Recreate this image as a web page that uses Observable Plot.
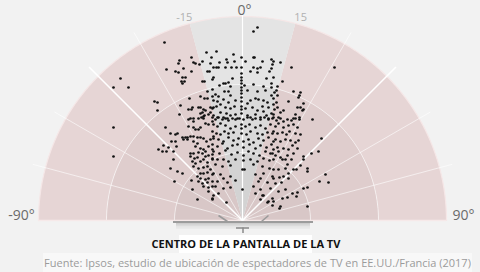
<!DOCTYPE html>
<html><head><meta charset="utf-8">
<script src="https://cdn.jsdelivr.net/npm/d3@7"></script>
<script src="https://cdn.jsdelivr.net/npm/@observablehq/plot@0.6"></script>
<style>
html,body{margin:0;padding:0;background:#f2f2f2;width:480px;height:272px;overflow:hidden;font-family:"Open Sans",sans-serif;}
#chart{position:absolute;left:0;top:0;}
#titlebox{position:absolute;left:179px;top:235px;width:133px;height:18px;background:#ffffff;}
#title{position:absolute;left:0;top:235px;width:492px;height:18px;line-height:18px;text-align:center;font-weight:700;font-size:11px;color:#111;}
#source{position:absolute;left:43px;top:253px;width:429px;height:19px;line-height:19px;text-align:center;font-size:11px;color:#9b9b9b;background:#f8f8f8;white-space:nowrap;}
</style></head><body>
<div id="chart"></div>
<div id="titlebox"></div>
<div id="title">CENTRO DE LA PANTALLA DE LA TV</div>
<div id="source">Fuente: Ipsos, estudio de ubicación de espectadores de TV en EE.UU./Francia (2017)</div>
<script>
// Viewer positions relative to TV centre: lateral offset (left -, right +) and distance in front
const seatX = [
-78,-51,-49,-47,-63,-64,-76,-67,-64,-59,-51,-40,-43,-36,-31,-32,-35,-33,-60,-57,-61,-58,-60,-40,-38,-30,-35,-30,-42,-53,-38,-35,-30,-88,-85,-85,-62,-50,-51,-54,-44,-42,-39,-37,-32,-30,-42,-40,-38,-34,-63,-52,-49,-41,-39,-30,-32,
15,11,-26,-9,-16,-15,-23,-1,11,12,3,20,29,-8,-29,-26,-24,-17,-11,-6,-1,11,15,18,8,15,30,29,27,-1,-1,-1,-1,-29,-10,-14,-17,-19,-23,-12,2,11,21,24,31,29,-1,-1,-1,5,15,23,-18,-14,-27,-24,-12,-29,-25,-19,-14,-7,-1,-1,5,8,13,16,21,25,29,31,-22,-26,-29,-17,-12,-8,-1,-1,-1,3,10,15,20,26,-22,-16,-12,-29,-25,-7,-5,5,8,13,18,21,24,29,-15,-19,26,31,
49,92,31,38,40,29,35,34,32,35,51,58,57,56,46,34,31,61,55,58,61,60,35,32,41,38,31,53,57,51,36,38,70,
-122,-129,-114,-129,-129,
-77,-54,-49,-44,-39,-54,-49,-47,-44,-42,-37,-34,-30,-72,-67,-65,-60,-57,-55,-52,-49,-45,-42,-59,-55,-67,-71,-49,-45,-39,-36,-32,-29,-79,-74,-66,-84,-80,-76,-69,-47,-42,-39,-34,-30,-52,-49,-44,-40,-37,-52,-48,-45,-37,-34,-30,-69,-50,-47,-42,-39,-35,-30,-72,-65,-60,-49,-44,-39,-35,-32,-42,-39,-35,-30,-45,-42,-37,-34,-68,-51,-44,-40,-35,-30,-39,-34,-30,-34,-50,-45,-30,
-27,-24,-20,-17,-14,-10,-7,-3,1,5,10,13,18,22,26,30,
-29,-25,-22,-17,-12,-7,-1,-1,3,7,13,18,23,28,
-30,-26,-22,-18,-14,-9,-1,4,8,15,20,25,30,
-29,-24,-19,-14,-9,-4,1,6,11,16,21,26,31,
-30,-25,-20,-15,-10,-5,1,7,13,18,24,29,
-29,-23,-17,-11,-5,1,6,11,17,23,28,
-30,-25,-19,-14,-7,1,8,15,21,27,
-27,-20,-12,0,2,11,20,27,
-29,-22,-19,-12,-7,13,18,21,30,-25,-15,16,25,
-27,-19,-12,0,11,18,28,-24,13,21,
-30,-16,18,26,30,
34,41,45,49,53,57,33,36,41,46,51,55,31,35,40,44,47,53,58,79,33,38,43,48,53,56,35,31,36,41,46,50,55,51,76,69,61,61,30,33,38,45,49,31,40,43,45,58,31,36,43,51,54,65,65,46,41,31,37,46,83,77,86,33,39,43,36,61,65,50,55,54,40,45,31,30,38,65,
-29,20,25,37
];
const seatY = [
178,163,158,157,160,157,151,149,148,152,149,159,156,168,163,157,149,149,143,143,139,139,137,139,139,141,129,131,124,122,122,122,124,119,118,110,115,113,111,111,113,113,111,110,113,112,107,108,105,106,106,102,102,103,102,103,108,
193,189,169,166,161,158,158,163,163,163,159,159,161,159,153,153,153,153,153,153,153,153,152,153,149,148,156,152,149,147,143,140,137,143,142,138,137,137,135,134,135,136,134,142,143,133,133,130,127,130,129,130,129,129,126,124,125,120,119,121,118,120,123,119,117,120,122,121,120,118,125,122,116,114,113,113,112,114,114,111,107,112,113,110,114,113,108,107,105,105,103,106,102,105,103,106,103,109,105,107,102,103,102,103,
153,153,159,158,139,137,134,130,128,125,129,128,125,123,119,118,116,117,113,113,111,110,113,111,110,108,106,106,103,102,103,102,101,
142,133,133,93,64,
93,101,99,102,104,94,93,91,91,93,97,96,99,87,86,87,83,83,83,84,84,83,83,81,81,79,79,79,77,82,79,81,84,75,73,74,71,69,69,69,74,72,71,74,71,67,67,68,67,69,64,62,63,64,65,66,61,59,57,59,61,58,61,52,49,47,54,52,53,54,51,47,47,48,46,44,42,41,42,39,40,39,37,38,39,34,33,34,29,31,21,21,
101,103,101,102,100,102,101,102,101,103,101,102,101,103,101,102,
96,94,97,95,92,94,96,92,94,96,93,95,92,96,
89,87,86,89,87,88,87,86,89,87,86,88,87,
82,81,79,83,80,82,79,81,78,82,80,83,79,
76,74,77,72,75,76,73,76,72,75,73,76,
69,67,70,66,68,65,69,67,65,69,67,
62,61,61,59,61,60,61,59,62,60,
56,54,55,51,51,56,54,52,
47,46,42,44,40,46,42,47,44,39,38,39,38,
34,32,33,31,34,31,32,27,27,25,
22,18,21,19,22,
100,99,101,100,102,101,94,97,93,95,96,93,89,87,88,86,89,87,86,82,81,79,81,80,78,80,73,71,69,72,71,75,72,67,69,67,64,61,67,65,63,65,61,61,61,61,56,55,51,51,52,51,51,52,49,47,44,42,43,42,46,39,38,37,38,31,29,32,33,27,28,24,22,23,19,15,14,14,
25,25,18,12
];
const seats = seatX.map((x, i) => ({x, y: seatY[i]}));

// Grid definitions
const ringRadii = [68, 136, 204];
const wedgeAngles = [-15, 15];
const thinSpokes = [-75, -60, -30, 30, 60, 75];
const boldSpokes = [-45, 45];
const angleLabels = ["-90°", "-15", "0°", "15", "90°"];
const labelAngles = [-90, -16, 0, 16, 90];
const pinkFills = ["#d8c7c7", "#dfcdcd", "#e6d5d5"];
const greyFills = ["#d3d3d3", "#dadada", "#e4e4e4"];

const rad = a => a * Math.PI / 180;
const px = (a, r) => r * Math.sin(rad(a));
const py = (a, r) => r * Math.cos(rad(a));

function sector(a0, a1, r0, r1, id) {
  const pts = [];
  for (let a = a0; a <= a1; a += 0.5) pts.push({x: px(a, r1), y: py(a, r1), id});
  for (let a = a1; a >= a0; a -= 0.5) pts.push({x: px(a, r0), y: py(a, r0), id});
  return pts;
}
function arc(r, id) {
  const pts = [];
  for (let a = -90; a <= 90; a += 0.5) pts.push({x: px(a, r), y: py(a, r), id});
  return pts;
}

const marks = [];
ringRadii.forEach((r1, i) => {
  const r0 = i === 0 ? 0 : ringRadii[i - 1];
  const pink = sector(-90, wedgeAngles[0], r0, r1, "L").concat(sector(wedgeAngles[1], 90, r0, r1, "R"));
  marks.push(Plot.line(pink, {x: "x", y: "y", z: "id", fill: pinkFills[i], stroke: "none"}));
  marks.push(Plot.line(sector(wedgeAngles[0], wedgeAngles[1], r0, r1, "C"), {x: "x", y: "y", z: "id", fill: greyFills[i], stroke: "none"}));
});
// ring lines
const innerRings = ringRadii.slice(0, 2).flatMap((r, i) => arc(r, i));
marks.push(Plot.line(innerRings, {x: "x", y: "y", z: "id", stroke: "#ffffff", strokeOpacity: 0.6, strokeWidth: 1}));
marks.push(Plot.line(arc(ringRadii[2], 9), {x: "x", y: "y", stroke: "#f5e7e7", strokeWidth: 1.2}));
marks.push(Plot.ruleY([0], {x1: -ringRadii[2], x2: ringRadii[2], stroke: "#f6e9e9", strokeWidth: 1.5}));
// spokes
const spokeR = 217;
marks.push(Plot.link(thinSpokes, {x1: 0, y1: 0, x2: a => px(a, spokeR), y2: a => py(a, spokeR), stroke: "#ffffff", strokeOpacity: 0.75, strokeWidth: 0.8}));
marks.push(Plot.link(boldSpokes, {x1: 0, y1: 0, x2: a => px(a, spokeR), y2: a => py(a, spokeR), stroke: "#ffffff", strokeWidth: 1.6}));
marks.push(Plot.link([0], {x1: 0, y1: 0, x2: 0, y2: 207, stroke: "#ffffff", strokeWidth: 1.2}));

// TV icon (top view)
const tvHalf = 70;
marks.push(Plot.rect([0], {x1: -tvHalf + 1, x2: tvHalf + 1, y1: -1, y2: -3, fill: "#9c9c9c"}));
[0.35, 0.22, 0.12, 0.06].forEach((o, k) => {
  marks.push(Plot.rect([0], {x1: -tvHalf + 4, x2: tvHalf - 2, y1: -3 - k * 1.5, y2: -4.5 - k * 1.5, fill: "#888", fillOpacity: o}));
});
marks.push(Plot.link([[-24, 5, -15, -1], [26, 5, 19, -1]], {x1: d => d[0], y1: d => d[1], x2: d => d[2], y2: d => d[3], stroke: "#9a9a9a", strokeWidth: 1.6}));
marks.push(Plot.ruleY([-7.5], {x1: -6, x2: 7, stroke: "#8a8a8a", strokeWidth: 1.5}));
marks.push(Plot.ruleX([0.5], {y1: -7.5, y2: -13, stroke: "#8a8a8a", strokeWidth: 1.5}));

// viewers
marks.push(Plot.dot(seats, {x: "x", y: "y", r: 1.35, fill: "#111", stroke: "none"}));

// labels
const labels = angleLabels.map((t, i) => {
  const a = labelAngles[i];
  const side = Math.abs(a) === 90;
  const r = side ? 221 : (a === 0 ? 210 : 211);
  return {t, x: px(a, r) + (a === 0 ? 2 : 0), y: side ? 5 : py(a, r), big: side || a === 0};
});
marks.push(Plot.text(labels.filter(d => d.big), {x: "x", y: "y", text: "t", fontSize: 14, fill: "#6a6a6a", fontFamily: "Open Sans"}));
marks.push(Plot.text(labels.filter(d => !d.big), {x: "x", y: "y", text: "t", fontSize: 11, fill: "#b0b0b0", fontFamily: "Open Sans"}));

const chart = Plot.plot({
  width: 480, height: 234,
  margin: 0,
  x: {type: "linear", domain: [-242, 238], range: [0, 480], axis: null},
  y: {type: "linear", domain: [-14, 220], range: [234, 0], axis: null},
  style: {background: "transparent", fontFamily: "Open Sans"},
  marks
});
document.getElementById("chart").appendChild(chart);
</script>
</body></html>
